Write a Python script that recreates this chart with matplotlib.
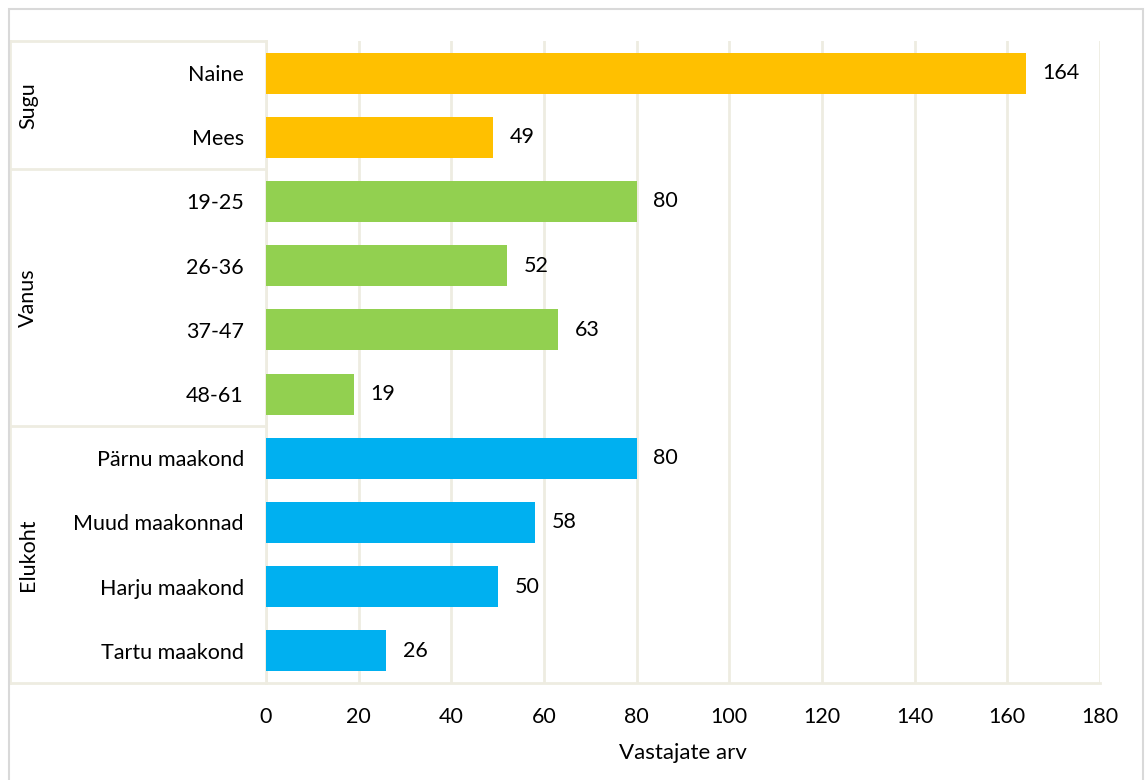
import matplotlib.pyplot as plt
from matplotlib.patches import Rectangle

categories = ['Naine', 'Mees', '19-25', '26-36', '37-47', '48-61',
              'Pärnu maakond', 'Muud maakonnad', 'Harju maakond', 'Tartu maakond']
values = [164, 49, 80, 52, 63, 19, 80, 58, 50, 26]
groups = ['Sugu', 'Vanus', 'Elukoht']
group_sizes = [2, 4, 4]
group_colors = ['#FFC000', '#92D050', '#00B0F0']
x_ticks = [0, 20, 40, 60, 80, 100, 120, 140, 160, 180]
x_label = 'Vastajate arv'

plt.rcParams['font.family'] = ['Lato', 'DejaVu Sans']
grid_c = '#EEECE1'
W, H = 1145, 780
fs = 15.5

fig = plt.figure(figsize=(W / 100, H / 100), dpi=100)
ax = fig.add_axes([266 / W, 1 - 683 / H, (1100 - 266) / W, (683 - 41) / H])

colors = []
for c, n in zip(group_colors, group_sizes):
    colors += [c] * n
ypos = list(range(len(categories)))
ax.barh(ypos, values, height=0.64, color=colors, zorder=3)
for y, v in zip(ypos, values):
    ax.annotate(str(v), (v, y), xytext=(12, 0), textcoords='offset points',
                va='center', ha='left', fontsize=fs, color='black')

ax.set_xlim(0, 180)
ax.set_ylim(len(categories) - 0.5, -0.5)
ax.set_xticks(x_ticks)
ax.set_xticklabels([str(t) for t in x_ticks], fontsize=fs)
ax.set_yticks(ypos)
ax.set_yticklabels(categories, fontsize=fs)
ax.tick_params(length=0, pad=16)
ax.tick_params(axis='x', pad=17)
ax.set_xlabel(x_label, fontsize=fs + 0.5, labelpad=12)
ax.grid(axis='x', color=grid_c, linewidth=2, zorder=0)
for s in ['top', 'right', 'bottom']:
    ax.spines[s].set_visible(False)
ax.spines['left'].set_color(grid_c)
ax.spines['left'].set_linewidth(2)

# multi-level category box
tr = ax.get_yaxis_transform()
x_left = (10 - 266) / (1100 - 266)
bounds = [-0.5]
for n in group_sizes:
    bounds.append(bounds[-1] + n)
for b in bounds:
    x_end = 1.0 if b == bounds[-1] else 0.0
    ax.plot([x_left, x_end], [b, b], color=grid_c, lw=2, transform=tr, clip_on=False, zorder=1)
ax.plot([x_left, x_left], [bounds[0], bounds[-1]], color=grid_c, lw=2, transform=tr, clip_on=False)
x_grp = (28 - 266) / (1100 - 266)
for g, a, b in zip(groups, bounds[:-1], bounds[1:]):
    ax.text(x_grp, (a + b) / 2, g, rotation=90, ha='center', va='center',
            fontsize=fs, transform=tr)

# outer chart border
fig.patches.append(Rectangle((9 / W, -10 / H), (1143 - 9) / W, (771 + 10) / H,
                             transform=fig.transFigure, fill=False,
                             edgecolor='#D9D9D9', linewidth=1.5))

fig.savefig('out.png', dpi=100)
